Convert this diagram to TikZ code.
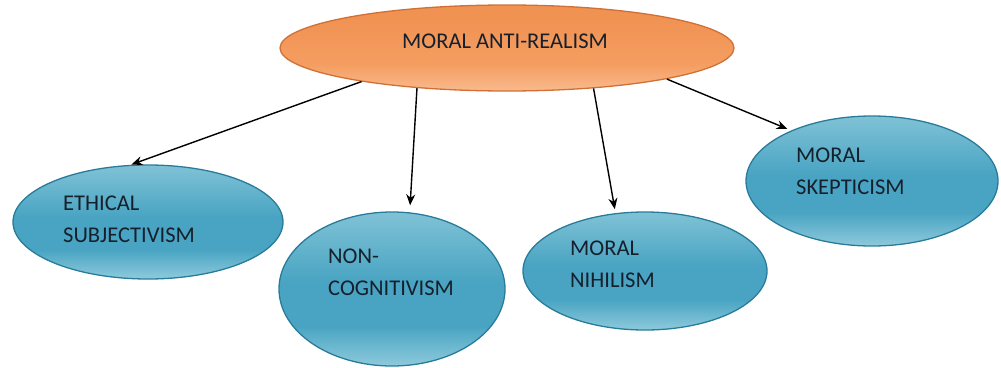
\documentclass[tikz,border=0pt]{standalone}
\usepackage{fontspec}
\setmainfont{Carlito}
\usetikzlibrary{arrows.meta,shapes.geometric}

\definecolor{bluetop}{RGB}{128,194,214}
\definecolor{bluemid}{RGB}{72,164,194}
\definecolor{bluebot}{RGB}{142,202,220}
\definecolor{blueline}{RGB}{40,124,154}
\definecolor{orangetop}{RGB}{240,146,82}
\definecolor{orangemid}{RGB}{245,158,98}
\definecolor{orangebot}{RGB}{249,186,142}
\definecolor{orangeline}{RGB}{208,112,52}
\definecolor{labeltext}{RGB}{22,32,44}

\pgfdeclareverticalshading{bluedisc}{100bp}{color(0bp)=(bluebot); color(25bp)=(bluebot);
    color(38bp)=(bluemid); color(52bp)=(bluemid); color(75bp)=(bluetop); color(100bp)=(bluetop)}
\pgfdeclareverticalshading{orangedisc}{100bp}{color(0bp)=(orangebot); color(25bp)=(orangebot);
    color(40bp)=(orangemid); color(68bp)=(orangetop); color(100bp)=(orangetop)}

\begin{document}
\begin{tikzpicture}[x=1pt,y=-1pt,
    topnode/.style={ellipse, inner sep=0pt, draw=orangeline, line width=1.3pt, shading=orangedisc},
    subnode/.style={ellipse, inner sep=0pt, draw=blueline, line width=1.3pt, shading=bluedisc},
    labeltxt/.style={inner sep=0pt, align=left, text=labeltext,
        font=\fontsize{22.5}{32}\selectfont},
    link/.style={-{Stealth[length=11pt,width=9pt]}, line width=1.4pt, black}]

        \useasboundingbox (0,0) rectangle (1001,367);

        % Top node
        \node[topnode, minimum width=454pt, minimum height=86pt] (antirealism) at (507,48) {};
        \node[labeltxt] (antirealismtxt) at ([shift={(-2,-7)}]antirealism.center) {MORAL ANTI-REALISM};

        % Ethical Subjectivism
        \node[subnode, minimum width=270pt, minimum height=114pt] (subjectivism) at (148,222) {};
        \node[labeltxt, anchor=west] (subjectivismtxt) at ([shift={(-85,-3)}]subjectivism.center) {ETHICAL\\SUBJECTIVISM};

        % Non-Cognitivism
        \node[subnode, minimum width=226pt, minimum height=154pt] (noncognitivism) at (392,289) {};
        \node[labeltxt, anchor=west] (noncognitivismtxt) at ([shift={(-64,-17)}]noncognitivism.center) {NON-\\COGNITIVISM};

        % Moral Nihilism
        \node[subnode, minimum width=244pt, minimum height=118pt] (nihilism) at (645,271) {};
        \node[labeltxt, anchor=west] (nihilismtxt) at ([shift={(-75,-7)}]nihilism.center) {MORAL\\NIHILISM};

        % Moral Skepticism
        \node[subnode, minimum width=252pt, minimum height=130pt] (skepticism) at (872,181) {};
        \node[labeltxt, anchor=west] (skepticismtxt) at ([shift={(-76,-10)}]skepticism.center) {MORAL\\SKEPTICISM};

        % Arrows
        \draw[link, shorten >=1pt] (antirealism.-167.6) -- (subjectivism.107.2);
        \draw[link, shorten >=7pt] (antirealism.-156) -- (noncognitivism.77.9);
        \draw[link, shorten >=4pt] (antirealism.-25.8) -- (nihilism.117.3);
        \draw[link, shorten >=4pt] (antirealism.-11.9) -- (skepticism.148);

\end{tikzpicture}
\end{document}
